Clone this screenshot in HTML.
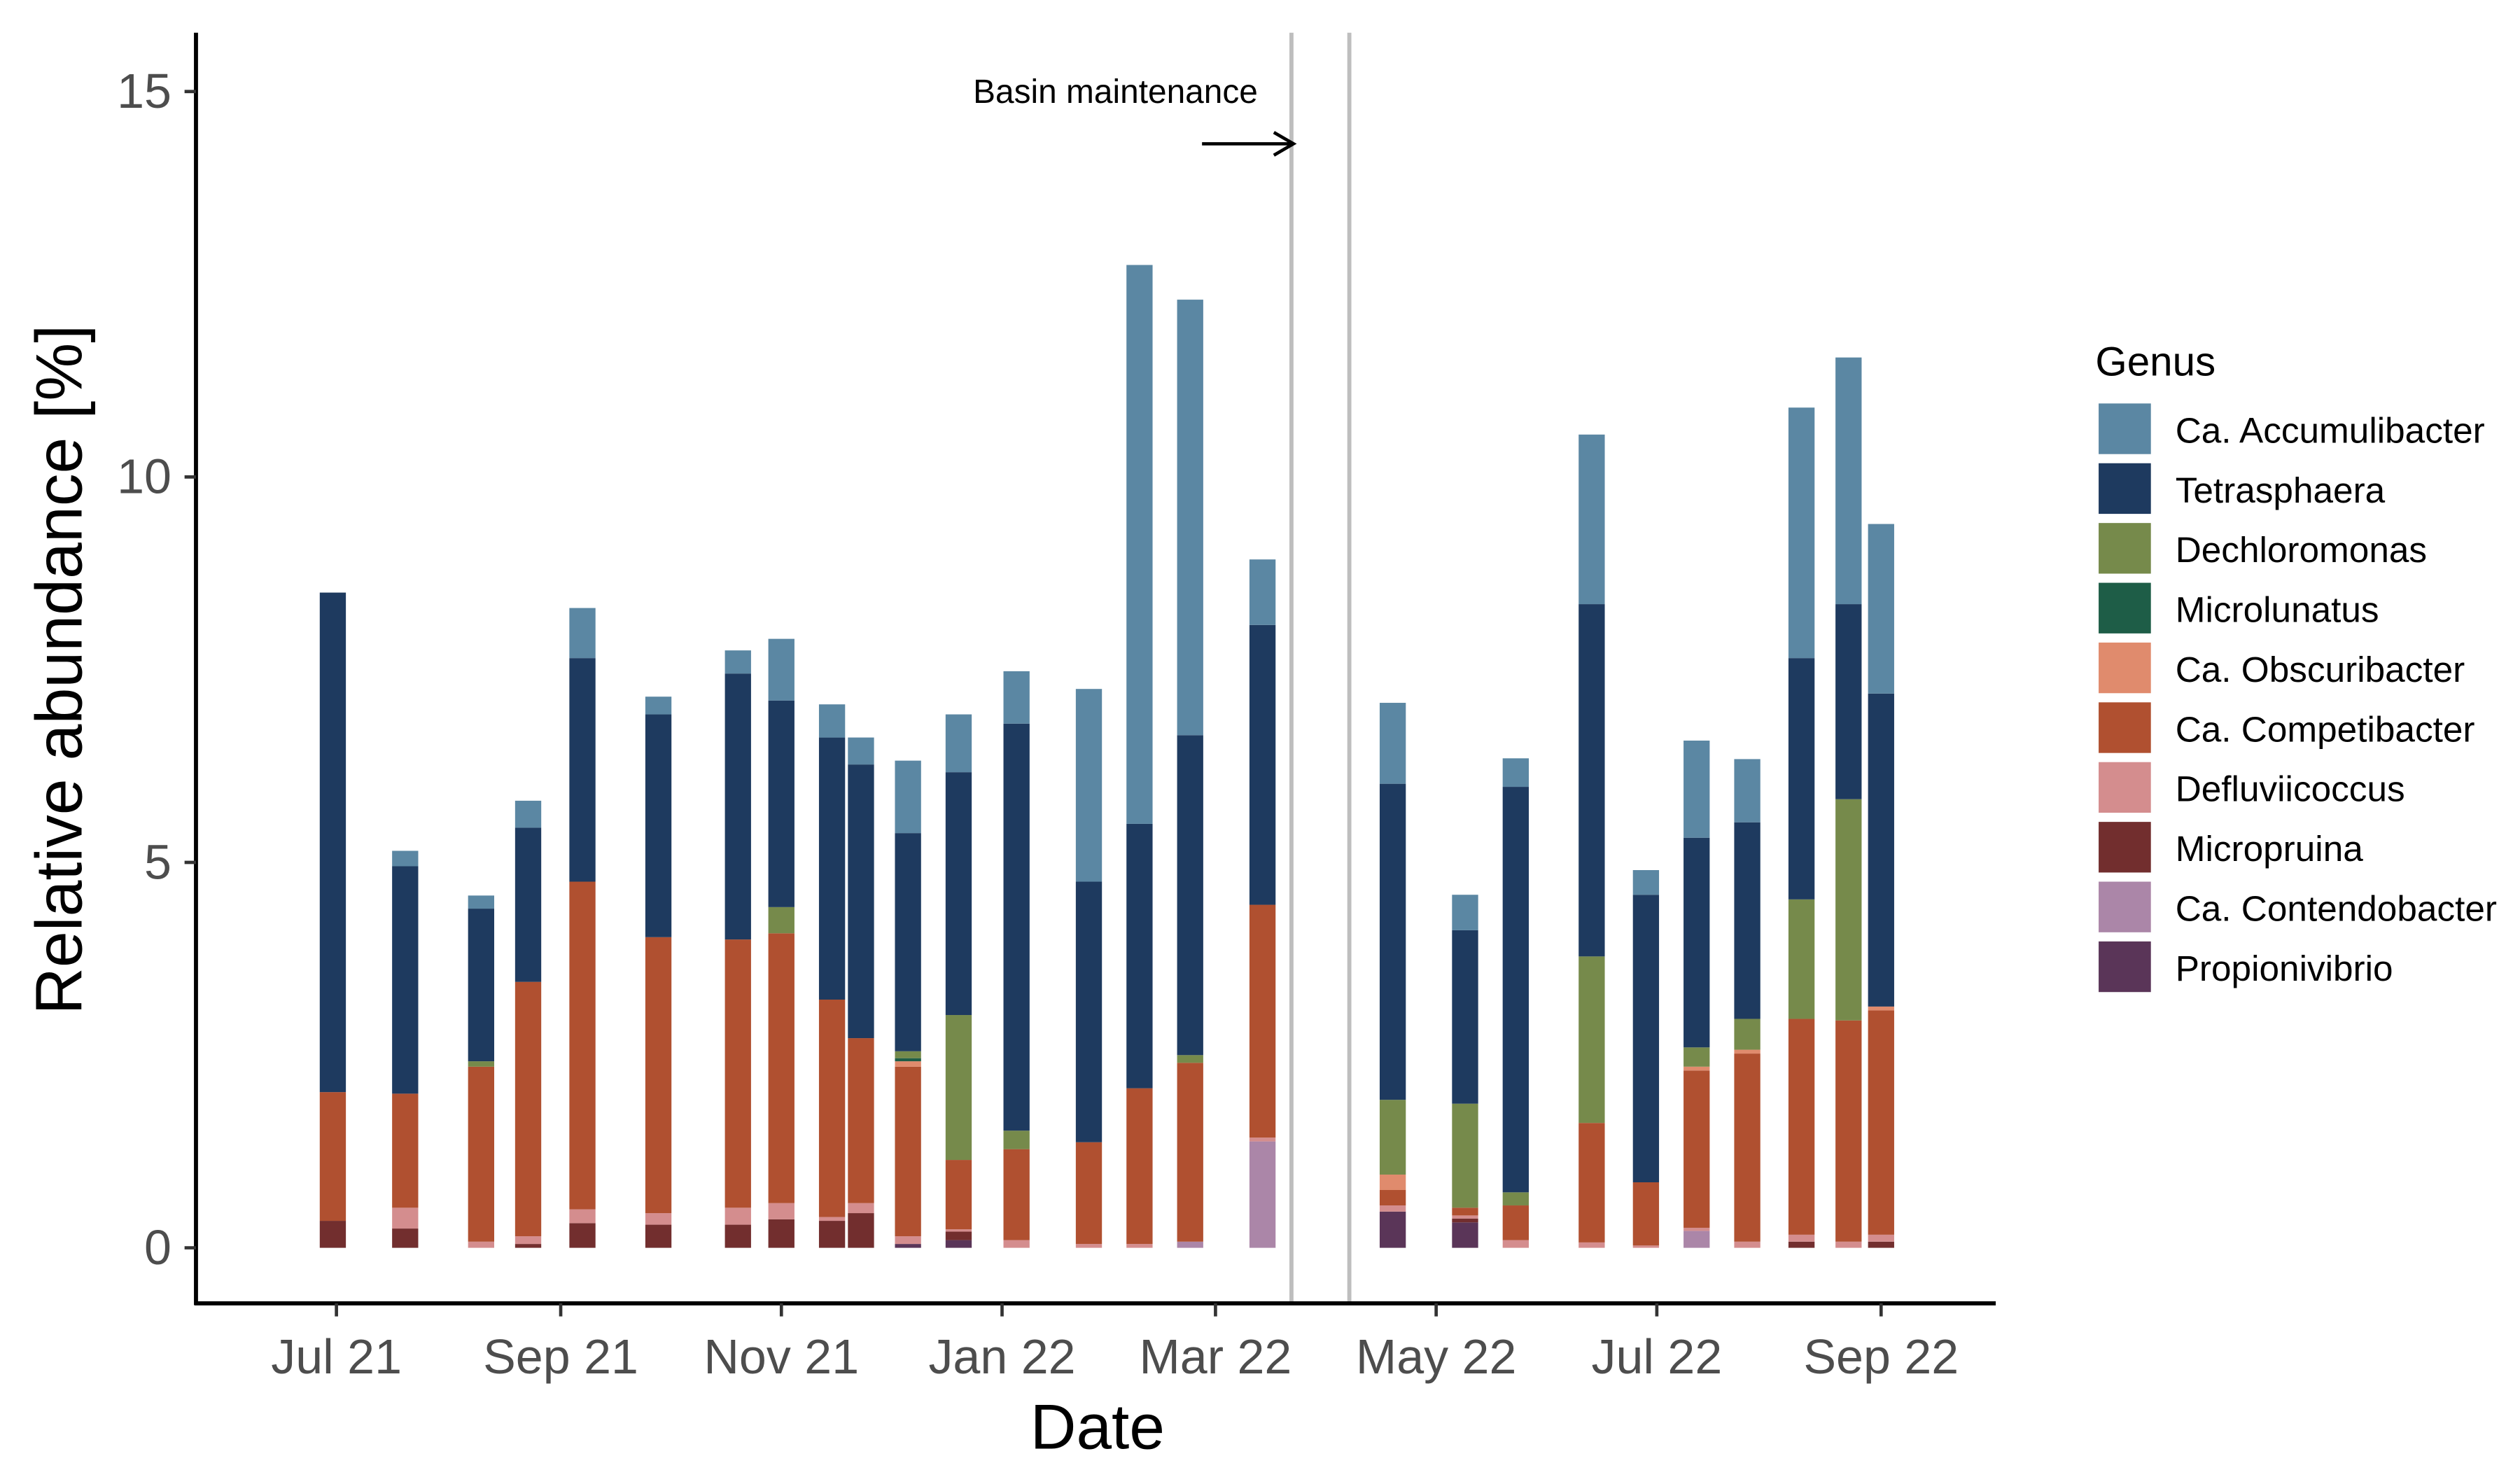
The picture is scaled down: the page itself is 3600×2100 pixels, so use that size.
<!DOCTYPE html>
<html><head><meta charset="utf-8"><style>
html,body{margin:0;padding:0;background:#fff;}
svg{display:block;font-family:"Liberation Sans",Arial,sans-serif;}
</style></head><body>
<svg id="chart" width="3600" height="2100" viewBox="0 0 1543 900" xmlns="http://www.w3.org/2000/svg">
<rect width="1543" height="900" fill="#fff"/>
<g id="bars"></g>
<g id="axes"></g>
<g id="legend"></g>
</svg>
<script>
const dates=["2021-06-30","2021-07-20","2021-08-10","2021-08-23","2021-09-07","2021-09-28","2021-10-20","2021-11-01","2021-11-15","2021-11-23","2021-12-06","2021-12-20","2022-01-05","2022-01-25","2022-02-08","2022-02-22","2022-03-14","2022-04-19","2022-05-09","2022-05-23","2022-06-13","2022-06-28","2022-07-12","2022-07-26","2022-08-10","2022-08-23","2022-09-01"];
const propionivibrio=[0,0,0,0,0,0,0,0,0,0,0.05,0.1,0,0,0,0,0,0.47,0.33,0,0,0,0,0,0,0,0];
const contendobacter=[0,0,0,0,0,0,0,0,0,0,0,0,0,0,0,0.08,1.38,0,0,0,0,0,0.22,0,0,0,0];
const micropruina=[0.35,0.25,0,0.05,0.32,0.3,0.3,0.37,0.35,0.45,0,0.11,0,0,0,0,0,0,0.05,0,0,0,0,0,0.08,0,0.08];
const defluviicoccus=[0,0.27,0.08,0.1,0.18,0.15,0.22,0.21,0.05,0.13,0.1,0.03,0.1,0.05,0.05,0,0.05,0.08,0.04,0.1,0.07,0.03,0.04,0.08,0.09,0.08,0.09];
const competibacter=[1.67,1.48,2.27,3.3,4.25,3.58,3.48,3.5,2.82,2.14,2.2,0.9,1.18,1.32,2.02,2.32,3.02,0.2,0.1,0.45,1.55,0.82,2.04,2.44,2.8,2.87,2.91];
const obscuribacter=[0,0,0,0,0,0,0,0,0,0,0.07,0,0,0,0,0,0,0.2,0,0,0,0,0.05,0.05,0,0,0.05];
const microlunatus=[0,0,0,0,0,0,0,0,0,0,0.04,0,0,0,0,0,0,0,0,0,0,0,0,0,0,0,0];
const dechloromonas=[0,0,0.07,0,0,0,0,0.34,0,0,0.09,1.88,0.24,0,0,0.1,0,0.97,1.35,0.17,2.16,0,0.25,0.4,1.55,2.87,0];
const tetrasphaera=[6.48,2.95,1.98,2.0,2.9,2.89,3.45,2.68,3.4,3.55,2.83,3.15,5.28,3.38,3.43,4.15,3.63,4.1,2.25,5.26,4.57,3.73,2.72,2.55,3.13,2.53,4.06];
const accumulibacter=[0,0.2,0.17,0.35,0.65,0.23,0.3,0.8,0.43,0.35,0.94,0.75,0.68,2.5,7.25,5.65,0.85,1.05,0.46,0.37,2.2,0.32,1.26,0.82,3.25,3.2,2.2];
const seriesNames=["Propionivibrio","Ca. Contendobacter","Micropruina","Defluviicoccus","Ca. Competibacter","Ca. Obscuribacter","Microlunatus","Dechloromonas","Tetrasphaera","Ca. Accumulibacter"];
const seriesVals=[propionivibrio,contendobacter,micropruina,defluviicoccus,competibacter,obscuribacter,microlunatus,dechloromonas,tetrasphaera,accumulibacter];
const seriesColors=["#5a3558","#ab86a8","#722e2e","#d48d8e","#b05030","#e08b6d","#1e5d47","#768a4b","#1e3a5f","#5b87a3"];
const yTicks=[0,5,10,15];
const xTickLabels=["Jul 21","Sep 21","Nov 21","Jan 22","Mar 22","May 22","Jul 22","Sep 22"];
const xTickDates=["2021-07-01","2021-09-01","2021-11-01","2022-01-01","2022-03-01","2022-05-01","2022-07-01","2022-09-01"];
const vlineDates=["2022-03-22","2022-04-07"];

const NS="http://www.w3.org/2000/svg";
const t0=Date.parse("2021-07-01");
function xs(d){return 206+(Date.parse(d)-t0)/86400000*2.215;}
function ys(v){return 764-v*47.2;}
function mk(tag,attrs,parent){const e=document.createElementNS(NS,tag);for(const k in attrs)e.setAttribute(k,attrs[k]);parent.appendChild(e);return e;}
const gb=document.getElementById('bars'),ga=document.getElementById('axes'),gl=document.getElementById('legend');
const bw=16;
dates.forEach((d,i)=>{let cum=0;const cx=xs(d);
 seriesVals.forEach((arr,s)=>{const v=arr[i];if(v<=0)return;
  const r=mk('rect',{x:cx-bw/2,y:ys(cum+v),width:bw,height:ys(cum)-ys(cum+v),fill:seriesColors[s]},gb);
  
  
  cum+=v;});
});
vlineDates.forEach(d=>{const l=mk('line',{x1:xs(d),x2:xs(d),y1:20,y2:798,stroke:'#bebebe','stroke-width':2.5},ga);
 
 });
const ann=mk('text',{x:683,y:63,'font-size':20.5,'text-anchor':'middle',fill:'#000'},ga);ann.textContent="Basin maintenance";


const arr=mk('path',{d:'M736 88 H792 M780 81 L792 88 L780 95',stroke:'#000','stroke-width':2,fill:'none'},ga);


mk('line',{x1:120,x2:120,y1:20,y2:799,stroke:'#000','stroke-width':2.5},ga);
mk('line',{x1:119,x2:1222,y1:798,y2:798,stroke:'#000','stroke-width':2.5},ga);
yTicks.forEach(v=>{mk('line',{x1:113,x2:120,y1:ys(v),y2:ys(v),stroke:'#333','stroke-width':2},ga);
 const t=mk('text',{x:105,y:ys(v)+10,'font-size':30,'text-anchor':'end',fill:'#4d4d4d'},ga);t.textContent=v;
 
 });
xTickDates.forEach((d,i)=>{const x=xs(d);mk('line',{x1:x,x2:x,y1:798,y2:806,stroke:'#333','stroke-width':2},ga);
 const t=mk('text',{x:x,y:841,'font-size':30,'text-anchor':'middle',fill:'#4d4d4d'},ga);t.textContent=xTickLabels[i];
 
 });
const xt=mk('text',{x:672,y:887,'font-size':39,'text-anchor':'middle',fill:'#000'},ga);xt.textContent="Date";


const yt=mk('text',{x:0,y:0,'font-size':40,'text-anchor':'middle',fill:'#000',transform:'translate(50,410) rotate(-90)'},ga);yt.textContent="Relative abundance [%]";


const lt=mk('text',{x:1283,y:230,'font-size':25,fill:'#000'},gl);lt.textContent="Genus";


for(let k=0;k<10;k++){const s=9-k;const y=247+k*36.6;
 const g=mk('g',{},gl);
 
 
 mk('rect',{x:1285,y:y,width:32,height:31,fill:seriesColors[s]},g);
 const t=mk('text',{x:1332,y:y+24,'font-size':22,fill:'#000'},g);t.textContent=seriesNames[s];}
</script>
</body></html>
